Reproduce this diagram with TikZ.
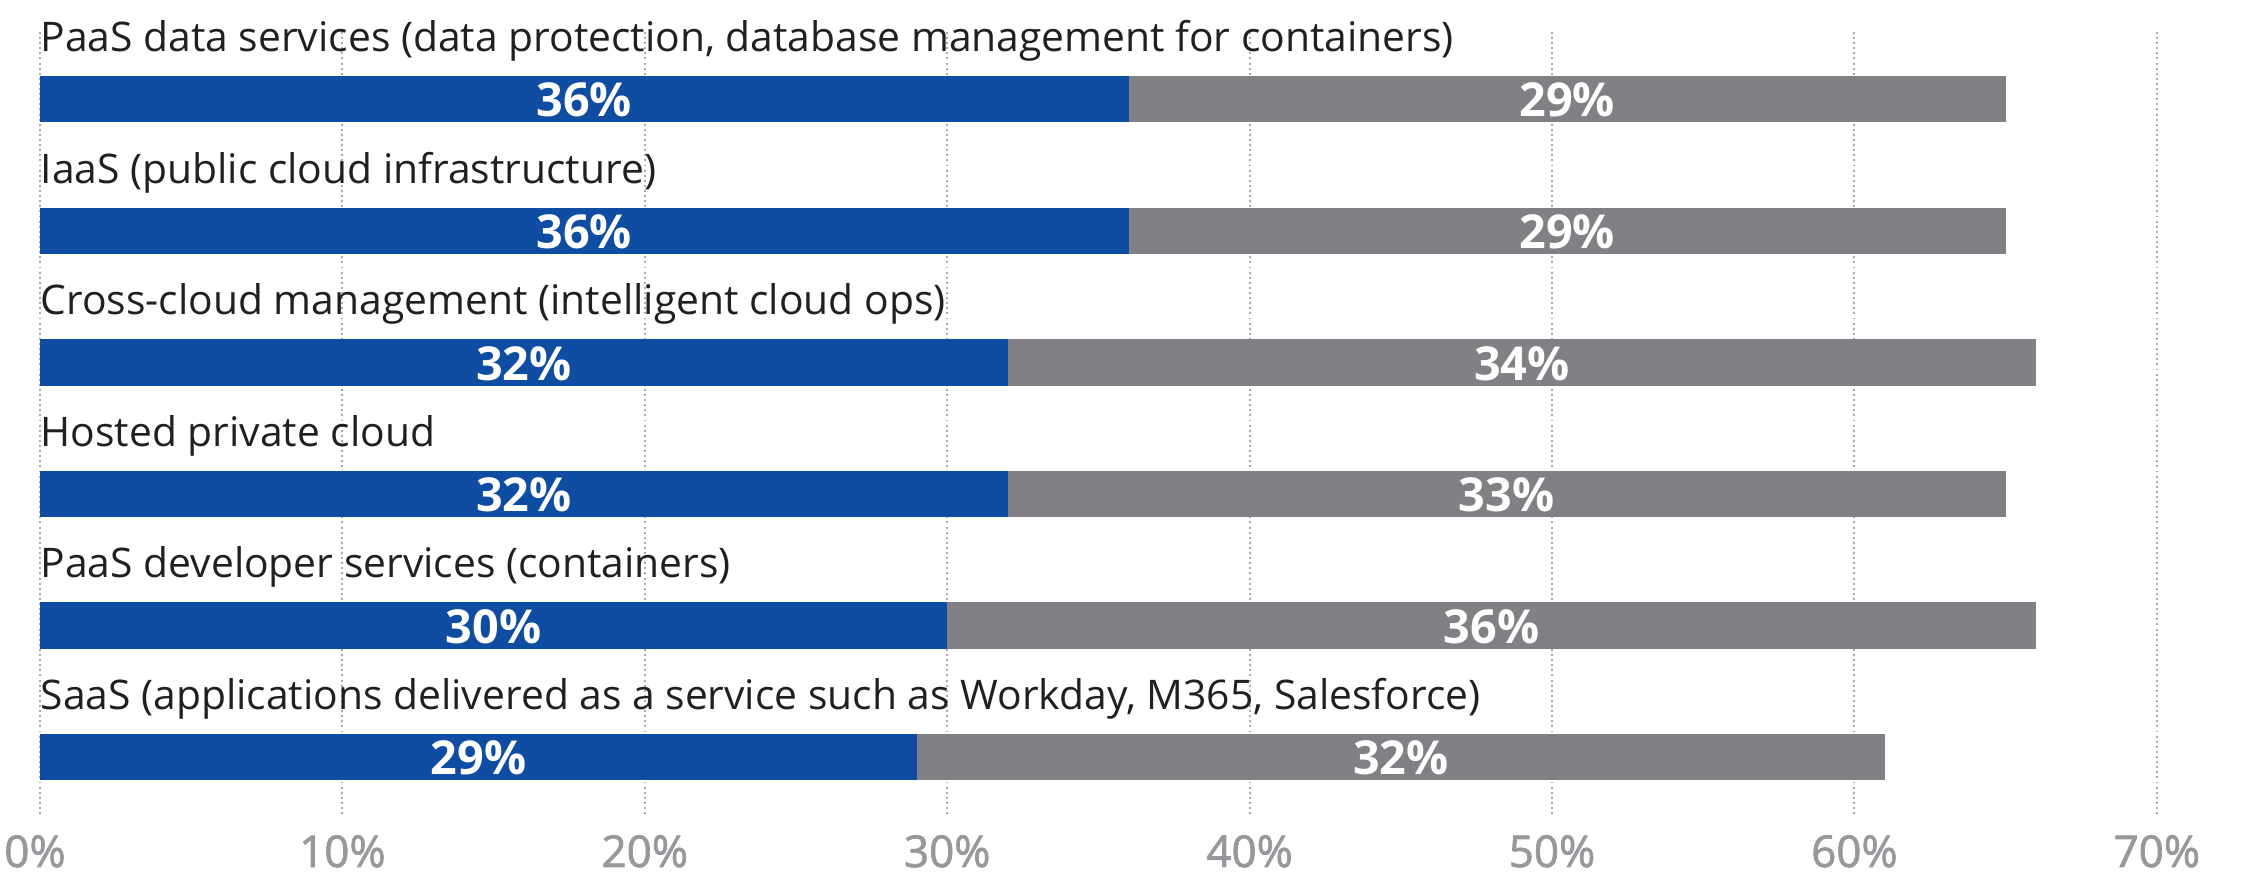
\documentclass[tikz,border=0pt]{standalone}
\usepackage{fontspec}
\setmainfont{Open Sans}
\newfontfamily\tickfont[FakeBold=1.6]{Open Sans}

\definecolor{barblue}{HTML}{0E4DA1}
\definecolor{bargrey}{HTML}{808184}
\definecolor{labeltext}{HTML}{231F20}
\definecolor{gridgrey}{HTML}{A7A9AC}
\definecolor{axisgrey}{HTML}{97989B}

\begin{document}
\begin{tikzpicture}[x=0.01cm,y=-0.01cm,
  catlabel/.style={anchor=base west,inner sep=0pt,text=labeltext,
    font=\fontsize{11.6}{13}\selectfont},
  vallabel/.style={anchor=base,inner sep=0pt,text=white,
    font=\bfseries\fontsize{13.3}{15}\selectfont},
  ticklabel/.style={anchor=base,inner sep=0pt,text=axisgrey,
    font=\tickfont\fontsize{12.5}{14}\selectfont},
  gridline/.style={gridgrey,line width=0.55pt,dash pattern=on 0.55pt off 0.9pt},
  ]
\useasboundingbox (0,0) rectangle (2255,874);

% vertical grid lines and axis labels
\foreach \k in {0,...,7}{
  \pgfmathsetmacro\gx{40+302.4*\k}
  \draw[gridline] (\gx,32) -- (\gx,814);
}
\node[ticklabel] (tick0) at (35,867) {0\%};
\foreach \k in {1,...,7}{
  \pgfmathsetmacro\gx{40+302.4*\k}
  \node[ticklabel] (tick\k) at (\gx,867) {\k0\%};
}

% stacked bars with category labels
\foreach [count=\i] \bv/\gv/\txt in {
  36/29/{PaaS data services (data protection, database management for containers)},
  36/29/{IaaS (public cloud infrastructure)},
  32/34/{Cross-cloud management (intelligent cloud ops)},
  32/33/{Hosted private cloud},
  30/36/{PaaS developer services (containers)},
  29/32/{SaaS (applications delivered as a service such as Workday, M365, Salesforce)}}{
  \pgfmathsetmacro\ty{76+131.6*(\i-1)}
  \pgfmathsetmacro\xb{40+30.24*\bv}
  \pgfmathsetmacro\xg{40+30.24*(\bv+\gv)}
  \fill[barblue] (40,\ty) rectangle (\xb,\ty+46.5);
  \fill[bargrey] (\xb,\ty) rectangle (\xg,\ty+46.5);
  \node[catlabel] (cat\i) at (40,\ty-24.5) {\txt};
  \node[vallabel] (blue\i) at ({(40+\xb)/2},\ty+41) {\bv\%};
  \node[vallabel] (grey\i) at ({(\xb+\xg)/2},\ty+41) {\gv\%};
}
\end{tikzpicture}
\end{document}
